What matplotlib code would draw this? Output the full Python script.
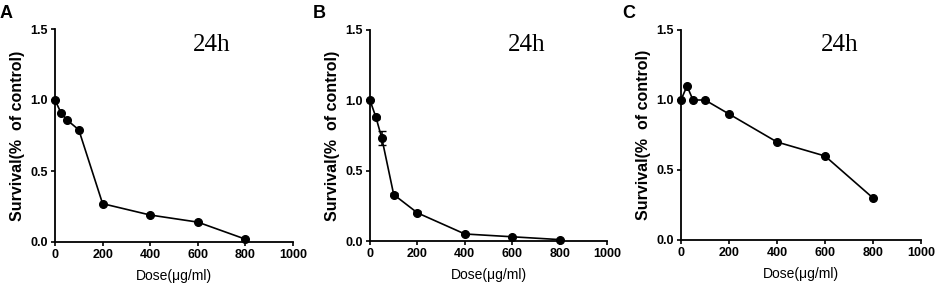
import matplotlib.pyplot as plt

# doses (ug/ml) and survival fractions
dose = [0, 25, 50, 100, 200, 400, 600, 800]
surv_a = [1.0, 0.91, 0.86, 0.79, 0.27, 0.19, 0.14, 0.02]
surv_b = [1.0, 0.88, 0.73, 0.33, 0.20, 0.05, 0.03, 0.01]
err_b = [0.0, 0.01, 0.05, 0.01, 0.01, 0.01, 0.0, 0.0]
surv_c = [1.0, 1.10, 1.0, 1.0, 0.90, 0.70, 0.60, 0.30]
panel_labels = ['A', 'B', 'C']
x_ticks = [0, 200, 400, 600, 800, 1000]
y_ticks = [0.0, 0.5, 1.0, 1.5]

plt.rcParams['font.family'] = ['Liberation Sans', 'DejaVu Sans']

fig = plt.figure(figsize=(9.41, 3.02), dpi=100)
W, H = 941, 302
# axes boxes in pixels: left, top, right, bottom
boxes = [(55, 29, 293, 242), (370, 30, 607, 241), (681, 30, 921, 240)]
label_pos = [(0, 14), (313, 14), (622, 14)]
series = [(surv_a, None), (surv_b, err_b), (surv_c, None)]

for (l, t, r, b), (lx, ly), lab, (ys, err) in zip(boxes, label_pos, panel_labels, series):
    ax = fig.add_axes([l / W, 1 - b / H, (r - l) / W, (b - t) / H])
    ax.errorbar(dose, ys, yerr=err, color='black', marker='o', markersize=5.5,
                linewidth=1.2, capsize=3, elinewidth=1.2, clip_on=False)
    ax.set_xlim(0, 1000)
    ax.set_ylim(0, 1.5)
    ax.set_xticks(x_ticks)
    ax.set_yticks(y_ticks)
    ax.set_yticklabels(['%.1f' % v for v in y_ticks])
    for s in ['top', 'right']:
        ax.spines[s].set_visible(False)
    for s in ['left', 'bottom']:
        ax.spines[s].set_linewidth(1.3)
    ax.tick_params(width=1.2, length=3, labelsize=9, pad=2)
    for tl in ax.get_xticklabels() + ax.get_yticklabels():
        tl.set_fontweight('bold')
    ax.set_xlabel('Dose(\u03bcg/ml)', fontsize=10, labelpad=6)
    ax.set_ylabel('Survival(%  of control)', fontsize=11.5, fontweight='bold', labelpad=4)
    ax.text(660, 1.39, '24h', fontsize=18, family='Liberation Serif', ha='center', va='center')
    fig.text(lx / W, 1 - ly / H, lab, fontsize=13, fontweight='bold', ha='left', va='center')

fig.savefig('out.png', dpi=100)
